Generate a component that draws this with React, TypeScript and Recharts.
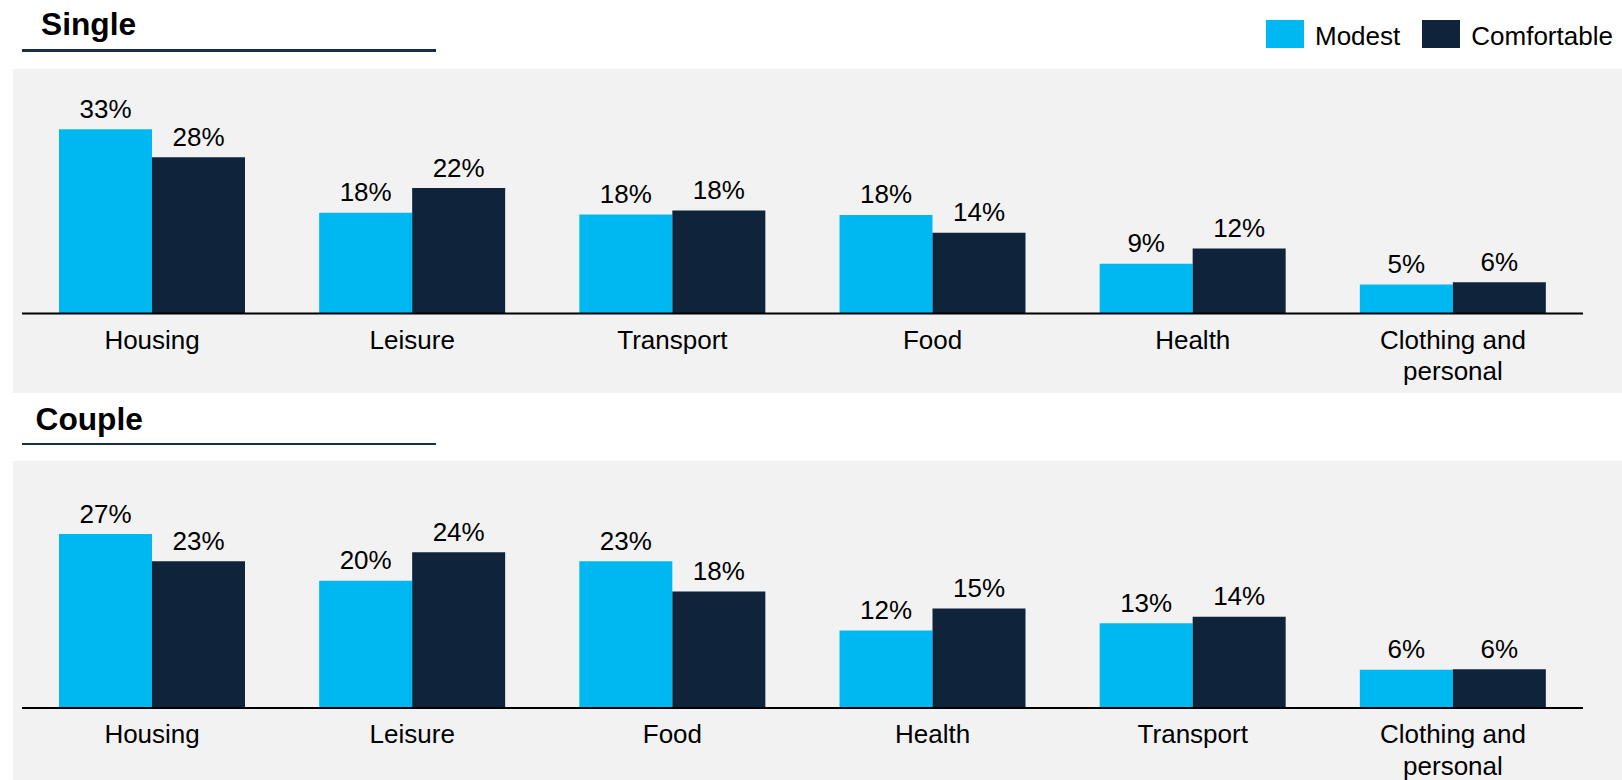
import React from 'react';
import { BarChart, Bar, XAxis, YAxis, LabelList, Legend } from 'recharts';

const FONT = '"Liberation Sans", Arial, Helvetica, sans-serif';

// Series
const seriesNames = ['Modest', 'Comfortable'];
const seriesColors = ['#00B8F1', '#0F233B'];

// Single
const singleCategories = ['Housing', 'Leisure', 'Transport', 'Food', 'Health', 'Clothing and personal'];
const singleModest = [32.9, 18.0, 17.7, 17.6, 8.9, 5.2];
const singleComfortable = [27.9, 22.4, 18.4, 14.4, 11.6, 5.6];

// Couple
const coupleCategories = ['Housing', 'Leisure', 'Food', 'Health', 'Transport', 'Clothing and personal'];
const coupleModest = [26.9, 19.7, 22.7, 12.0, 13.1, 5.9];
const coupleComfortable = [22.7, 24.1, 18.0, 15.4, 14.1, 6.0];

const panelTitles = ['Single', 'Couple'];

const buildRows = (cats: string[], m: number[], c: number[]) =>
  cats.map((name, i) => ({ name, modest: m[i], comfortable: c[i] }));

const fmt = (v: any) => `${Math.round(Number(v))}%`;

const TICK_FONT_SIZE = 26;
let measureCtx: CanvasRenderingContext2D | null = null;
const wrapWords = (text: string, maxWidth: number): string[] => {
  if (typeof document === 'undefined') return [text];
  if (!measureCtx) measureCtx = document.createElement('canvas').getContext('2d');
  if (!measureCtx) return [text];
  measureCtx.font = `${TICK_FONT_SIZE}px "Liberation Sans", Arial, sans-serif`;
  const words = String(text).split(' ');
  const lines: string[] = [];
  let cur = '';
  for (const w of words) {
    const t = cur ? `${cur} ${w}` : w;
    if (cur && measureCtx.measureText(t).width > maxWidth) {
      lines.push(cur);
      cur = w;
    } else {
      cur = t;
    }
  }
  if (cur) lines.push(cur);
  return lines;
};

const CategoryTick = (props: any) => {
  const { x, y, payload } = props;
  const lines = wrapWords(payload.value, 210);
  return (
    <text x={x} y={y} textAnchor="middle" fill="#000" fontSize={TICK_FONT_SIZE} fontFamily={FONT}>
      {lines.map((l, i) => (
        <tspan key={i} x={x} dy={i === 0 ? '0.71em' : 31.5}>
          {l}
        </tspan>
      ))}
    </text>
  );
};

const LegendContent = (props: any) => {
  const payload = [...(props.payload || [])].sort(
    (a: any, b: any) => seriesNames.indexOf(a.value) - seriesNames.indexOf(b.value)
  );
  return (
    <div style={{ display: 'flex', alignItems: 'flex-start', fontFamily: FONT }}>
      {payload.map((p: any, i: number) => (
        <div key={i} style={{ display: 'flex', alignItems: 'flex-start', marginRight: i === 0 ? 22 : 0 }}>
          <span style={{ display: 'inline-block', width: 38, height: 28, background: p.color }} />
          <span style={{ marginLeft: 11, fontSize: 26, lineHeight: '32px', color: '#000', whiteSpace: 'nowrap' }}>
            {p.value}
          </span>
        </div>
      ))}
    </div>
  );
};

type ChartProps = {
  data: any[];
  height: number;
  marginTop: number;
  axisHeight: number;
  domainMax: number;
  showLegend?: boolean;
};

const PanelChart = ({ data, height, marginTop, axisHeight, domainMax, showLegend }: ChartProps) => (
  <BarChart
    width={1622}
    height={height}
    data={data}
    margin={{ top: marginTop, right: 39, bottom: 0, left: 22 }}
    barGap={0}
    barSize={93}
  >
    <XAxis
      dataKey="name"
      axisLine={{ stroke: '#000', strokeWidth: 2 }}
      tickLine={false}
      tickSize={0}
      tickMargin={17}
      height={axisHeight}
      interval={0}
      tick={<CategoryTick />}
    />
    <YAxis hide domain={[0, domainMax]} />
    {showLegend && (
      <Legend
        layout="horizontal"
        verticalAlign="middle"
        align="center"
        content={<LegendContent />}
        wrapperStyle={{ left: 1266, top: 20, width: 'auto', height: 'auto' }}
      />
    )}
    <Bar dataKey="modest" name={seriesNames[0]} fill={seriesColors[0]} isAnimationActive={false}>
      <LabelList
        dataKey="modest"
        position="top"
        offset={11.5}
        formatter={fmt}
        fill="#000"
        fontSize={26}
        fontFamily={FONT}
      />
    </Bar>
    <Bar dataKey="comfortable" name={seriesNames[1]} fill={seriesColors[1]} isAnimationActive={false}>
      <LabelList
        dataKey="comfortable"
        position="top"
        offset={11.5}
        formatter={fmt}
        fill="#000"
        fontSize={26}
        fontFamily={FONT}
      />
    </Bar>
  </BarChart>
);

const titleStyle: React.CSSProperties = {
  position: 'absolute',
  fontFamily: FONT,
  fontWeight: 'bold',
  fontSize: 31.7,
  lineHeight: '31.7px',
  color: '#000',
  whiteSpace: 'nowrap',
};

const ruleStyle: React.CSSProperties = {
  position: 'absolute',
  left: 22,
  width: 414,
  height: 2.7,
  background: '#1B2E48',
};

export default function App() {
  const singleRows = buildRows(singleCategories, singleModest, singleComfortable);
  const coupleRows = buildRows(coupleCategories, coupleModest, coupleComfortable);
  return (
    <div
      style={{
        position: 'fixed',
        left: 0,
        top: 0,
        width: 1622,
        height: 780,
        background: '#fff',
        overflow: 'hidden',
        fontFamily: FONT,
      }}
    >
      {/* panel backgrounds */}
      <div style={{ position: 'absolute', left: 13, top: 69, width: 1609, height: 324, background: '#F2F2F2' }} />
      <div style={{ position: 'absolute', left: 13, top: 461, width: 1609, height: 319, background: '#F2F2F2' }} />

      {/* titles */}
      <div style={{ ...titleStyle, left: 41, top: 9 }}>{panelTitles[0]}</div>
      <div style={{ ...ruleStyle, top: 49.3 }} />
      <div style={{ ...titleStyle, left: 35.5, top: 404 }}>{panelTitles[1]}</div>
      <div style={{ ...ruleStyle, top: 442.7 }} />

      {/* charts */}
      <div style={{ position: 'absolute', left: 0, top: 0 }}>
        <PanelChart data={singleRows} height={393} marginTop={89.5} axisHeight={79.5} domainMax={40} showLegend />
      </div>
      <div style={{ position: 'absolute', left: 0, top: 461 }}>
        <PanelChart data={coupleRows} height={319} marginTop={20.7} axisHeight={72} domainMax={35} />
      </div>
    </div>
  );
}
